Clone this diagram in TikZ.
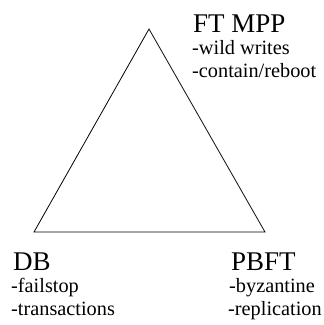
\documentclass[tikz,border=0pt]{standalone}
\usepackage{fontspec}
\setmainfont{Liberation Serif}
\usetikzlibrary{positioning}
\tikzset{
  corner/.style={inner sep=0pt,minimum size=0pt},
  title/.style={anchor=base west,inner sep=0pt,font=\fontsize{27}{30}\selectfont},
  item/.style={anchor=base west,inner sep=0pt,font=\fontsize{20.3}{24}\selectfont},
  edge/.style={draw=black,line width=0.8pt,line join=miter},
}
\begin{document}
\begin{tikzpicture}[x=1pt,y=-1pt]
  \useasboundingbox (0,0) rectangle (324,325);
  % corners of the triangle
  \coordinate (ftmpp) at (149,29);
  \coordinate (db) at (34,232);
  \coordinate (pbft) at (265,232);
  \draw[edge] (ftmpp) -- (db) -- (pbft) -- cycle;
  % top label
  \node[title] (tFT) at (193,32) {FT MPP};
  \node[item] (tFT1) at (192,54) {-wild writes};
  \node[item] (tFT2) at (192,77) {-contain/reboot};
  % left label
  \node[title] (tDB) at (13,270) {DB};
  \node[item] (tDB1) at (11,292) {-failstop};
  \node[item] (tDB2) at (11,315) {-transactions};
  % right label
  \node[title] (tPB) at (231,270) {PBFT};
  \node[item] (tPB1) at (229,292) {-byzantine};
  \node[item] (tPB2) at (228,315) {-replication};
\end{tikzpicture}
\end{document}
